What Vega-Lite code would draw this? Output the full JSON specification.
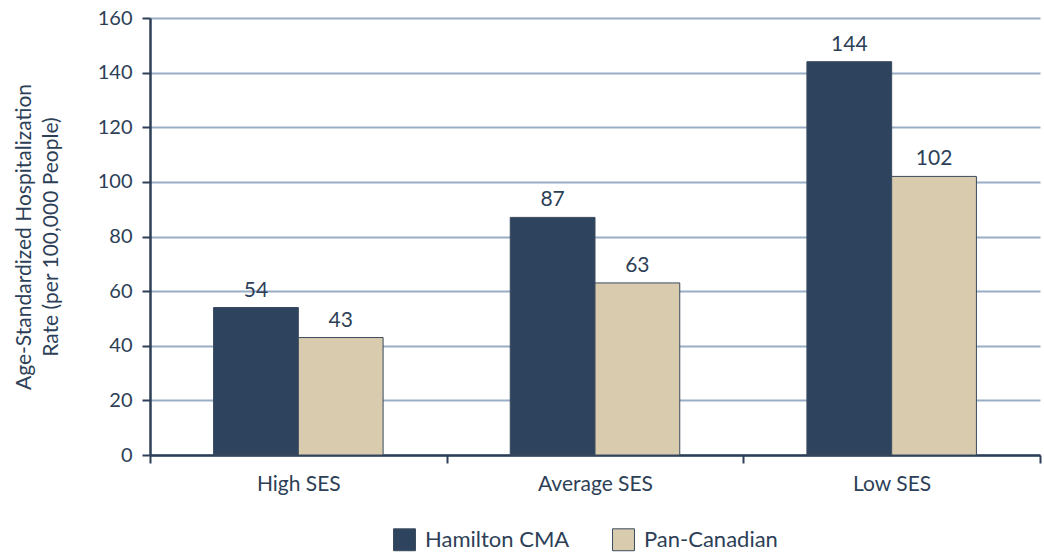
{
  "$schema": "https://vega.github.io/schema/vega-lite/v6.json",
  "width": 890,
  "height": 437,
  "autosize": {"type": "none"},
  "padding": {"left": 150, "top": 18, "right": 4, "bottom": 100},
  "background": "white",
  "config": {
    "view": {"stroke": null},
    "font": "Lato",
    "axis": {"labelFont": "Lato", "titleFont": "Lato", "labelColor": "#2d3f57", "titleColor": "#2d3f57"},
    "legend": {"labelFont": "Lato"}
  },
  "data": {
    "values": [
      {"ses": "High SES", "series": "Hamilton CMA", "rate": 54},
      {"ses": "High SES", "series": "Pan-Canadian", "rate": 43},
      {"ses": "Average SES", "series": "Hamilton CMA", "rate": 87},
      {"ses": "Average SES", "series": "Pan-Canadian", "rate": 63},
      {"ses": "Low SES", "series": "Hamilton CMA", "rate": 144},
      {"ses": "Low SES", "series": "Pan-Canadian", "rate": 102}
    ]
  },
  "encoding": {
    "x": {
      "field": "ses", "type": "nominal", "sort": ["High SES", "Average SES", "Low SES"],
      "scale": {"paddingInner": 0, "paddingOuter": 0},
      "axis": {
        "title": null, "labelAngle": 0, "labelFontSize": 21, "labelPadding": 10,
        "tickBand": "extent", "tickSize": 8, "tickWidth": 2, "tickColor": "#2d3f57",
        "domainColor": "#2d3f57", "domainWidth": 2.5, "grid": false
      }
    },
    "xOffset": {"field": "series", "type": "nominal", "scale": {"paddingInner": 0, "paddingOuter": 0.75}},
    "y": {
      "field": "rate", "type": "quantitative",
      "scale": {"domain": [0, 160], "nice": false},
      "axis": {
        "title": ["Age-Standardized Hospitalization", "Rate (per 100,000 People)"],
        "titleFontSize": 21, "titleFontWeight": "normal", "titlePadding": 36, "titleLineHeight": 27,
        "values": [0, 20, 40, 60, 80, 100, 120, 140, 160], "labelOverlap": false,
        "labelFontSize": 20, "labelPadding": 10,
        "tickSize": 8, "tickWidth": 2, "tickColor": "#2d3f57",
        "domainColor": "#2d3f57", "domainWidth": 2.5,
        "grid": true, "gridColor": "#9aadc6", "gridWidth": 2
      }
    }
  },
  "layer": [
    {
      "mark": {"type": "bar", "stroke": "#3a4a5e", "strokeWidth": 1},
      "encoding": {
        "color": {
          "field": "series", "type": "nominal",
          "scale": {"domain": ["Hamilton CMA", "Pan-Canadian"], "range": ["#2e445e", "#d9ccae"]},
          "legend": {
            "title": null, "orient": "none", "direction": "horizontal",
            "legendX": 243, "legendY": 510,
            "symbolType": "square", "symbolSize": 480, "symbolStrokeColor": "#3a4a5e", "symbolStrokeWidth": 1,
            "symbolOpacity": 1,
            "labelFontSize": 22, "labelColor": "#2d3f57", "columnPadding": 40, "labelOffset": 9
          }
        }
      }
    },
    {
      "mark": {"type": "text", "baseline": "bottom", "dy": -7, "fontSize": 21, "color": "#2d3f57"},
      "encoding": {"text": {"field": "rate", "type": "quantitative"}}
    }
  ]
}
